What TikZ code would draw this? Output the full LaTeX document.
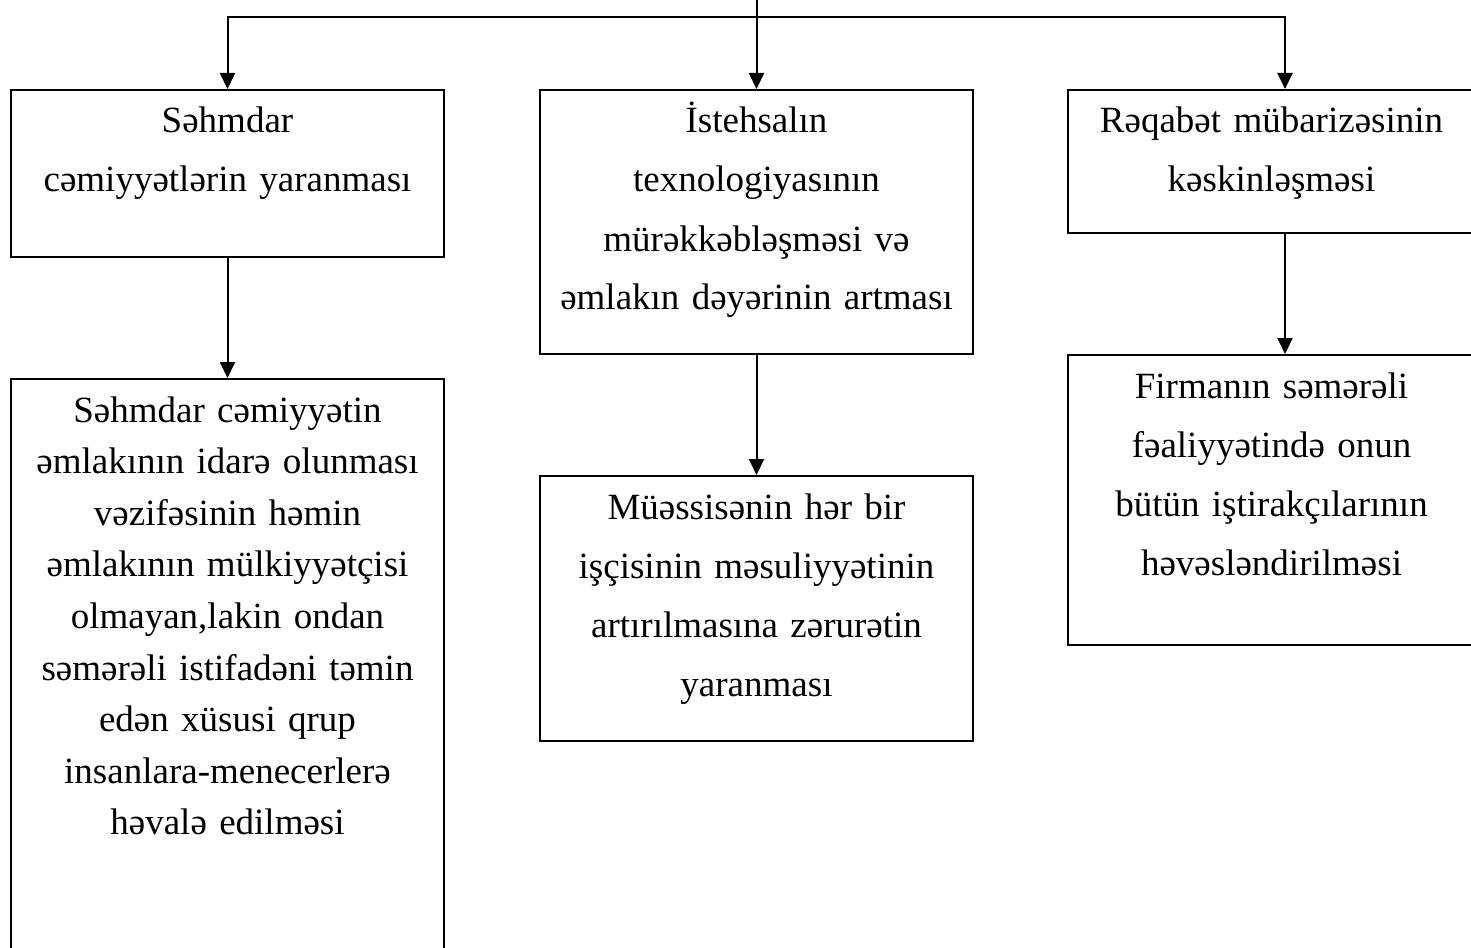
\documentclass[tikz,border=0pt]{standalone}
\usepackage{fontspec}
\setmainfont{Liberation Serif}
\usetikzlibrary{positioning,arrows.meta}
\tikzset{
    box/.style = {draw, rectangle, anchor=north, minimum width=216.5pt, text width=208pt, align=center, inner ysep=6pt, text height=15.5pt, font=\fontsize{18.5pt}{29.5pt}\selectfont},
    dense/.style = {font=\fontsize{18.5pt}{25.8pt}\selectfont},
    narrow/.style = {minimum width=203.5pt, text width=195pt},
}

\begin{document}
\begin{tikzpicture}[node distance=60pt, line width=1pt, >={Triangle[length=8pt,width=7.5pt]}]
    \useasboundingbox (0,0) rectangle (735.5pt,-473.5pt);
    \clip (0,0) rectangle (735.5pt,-473.5pt);

    \node[box, text depth=56pt] (shares) at (113.75pt,-44.5pt) {Səhmdar\\cəmiyyətlərin yaranması};
    \node[box, text depth=104.5pt] (tech) at (378.25pt,-44.5pt) {İstehsalın\\texnologiyasının\\mürəkkəbləşməsi və\\əmlakın dəyərinin artması};
    \node[box, narrow, text depth=44pt] (rivalry) at (635.75pt,-44.5pt) {Rəqabət mübarizəsinin\\kəskinləşməsi};

    \node[box, dense, text depth=300pt, below=of shares] (managers) {Səhmdar cəmiyyətin\\əmlakının idarə olunması\\vəzifəsinin həmin\\əmlakının mülkiyyətçisi\\olmayan,lakin ondan\\səmərəli istifadəni təmin\\edən xüsusi qrup\\insanlara-menecerlerə\\həvalə edilməsi};
    \node[box, text depth=105pt, below=of tech] (duty) {Müəssisənin hər bir\\işçisinin məsuliyyətinin\\artırılmasına zərurətin\\yaranması};
    \node[box, narrow, text depth=117.5pt, below=of rivalry] (motive) {Firmanın səmərəli\\fəaliyyətində onun\\bütün iştirakçılarının\\həvəsləndirilməsi};

    \coordinate (top) at (378.25pt,0);
    \coordinate[below=8.5pt of top] (bus);
    % the right column's arrows sit off the box centre
    \coordinate (rin) at ([xshift=6.75pt]rivalry.north);
    \coordinate (rout) at ([xshift=6.75pt]rivalry.south);
    \coordinate (min) at ([xshift=6.75pt]motive.north);

    \draw[->] (top) -- (tech);
    \draw[->] (bus) -| (shares);
    \draw[->] (bus) -| (rin);
    \draw[->] (shares) -- (managers);
    \draw[->] (tech) -- (duty);
    \draw[->] (rout) -- (min);
\end{tikzpicture}
\end{document}
